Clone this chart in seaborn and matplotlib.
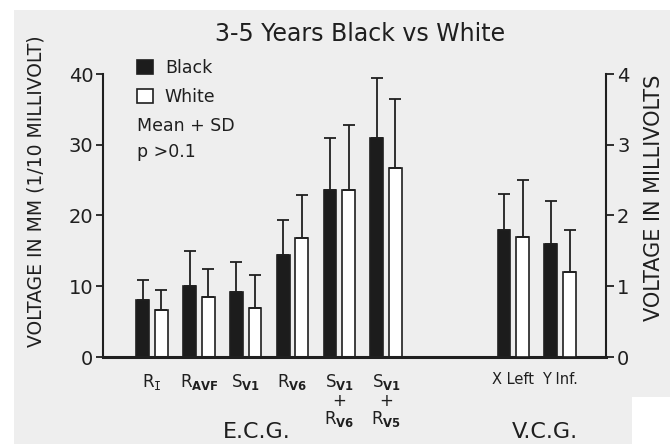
import numpy as np
import pandas as pd
import matplotlib
matplotlib.use("Agg")
import matplotlib.pyplot as plt
from matplotlib.patches import Patch, Rectangle
import seaborn as sns

# ---------------- data ----------------
groups = ["Black", "White"]
ecg_labels = [r"R$_{\mathtt{I}}$", r"R$_{\mathbf{AVF}}$", r"S$_{\mathbf{V1}}$",
              r"R$_{\mathbf{V6}}$", "S$_{\\mathbf{V1}}$\n+\nR$_{\\mathbf{V6}}$",
              "S$_{\\mathbf{V1}}$\n+\nR$_{\\mathbf{V5}}$"]
vcg_labels = ["X Left", "Y Inf."]

black_ecg = [8.0, 10.0, 9.2, 14.4, 23.6, 30.9]
black_ecg_sd = [2.9, 5.0, 4.2, 5.0, 7.3, 8.5]
white_ecg = [6.6, 8.5, 6.9, 16.8, 23.6, 26.7]
white_ecg_sd = [2.9, 3.9, 4.7, 6.1, 9.2, 9.7]

black_vcg = [1.8, 1.6]
black_vcg_sd = [0.5, 0.6]
white_vcg = [1.7, 1.2]
white_vcg_sd = [0.8, 0.6]

left_ticks = [0, 10, 20, 30, 40]
right_ticks = [0, 1, 2, 3, 4]

# layout positions (numeric x positions of groups)
ecg_pos = [0, 1, 2, 3, 4, 5]
vcg_pos = [7.72, 8.72]

# ---------------- style ----------------
sns.set_style("ticks")
plt.rcParams["font.family"] = ["DejaVu Sans"]
plt.rcParams["mathtext.fontset"] = "dejavusans"
ink = "#1f1f1f"
plt.rcParams["text.color"] = ink
plt.rcParams["axes.labelcolor"] = ink
plt.rcParams["xtick.color"] = ink
plt.rcParams["ytick.color"] = ink

fig = plt.figure(figsize=(6.7, 4.44), dpi=100, facecolor="white")
# scanned page background
fig.patches.append(Rectangle((14 / 670, 0), 1, 1 - 10 / 444, transform=fig.transFigure,
                             facecolor="#eeeeee", edgecolor="none", zorder=-10))
fig.patches.append(Rectangle((632 / 670, 0), 1, 1 - 397 / 444, transform=fig.transFigure,
                             facecolor="white", edgecolor="none", zorder=-9))

ax = fig.add_axes([103 / 670, 1 - 357 / 444, (606 - 103) / 670, (357 - 74) / 444])
ax.set_facecolor("none")
ax2 = ax.twinx()

palette = {"Black": "#1c1c1c", "White": "white"}

ecg_df = pd.DataFrame({
    "pos": ecg_pos * 2,
    "group": ["Black"] * len(ecg_pos) + ["White"] * len(ecg_pos),
    "value": black_ecg + white_ecg,
})
vcg_df = pd.DataFrame({
    "pos": vcg_pos * 2,
    "group": ["Black"] * len(vcg_pos) + ["White"] * len(vcg_pos),
    "value": black_vcg + white_vcg,
})

common = dict(x="pos", y="value", hue="group", hue_order=groups, palette=palette,
              native_scale=True, width=0.8, gap=0.32, edgecolor=ink, linewidth=1.2,
              errorbar=None, legend=False)
sns.barplot(data=ecg_df, ax=ax, **common)
sns.barplot(data=vcg_df, ax=ax2, **common)


def add_err(axis, sds):
    for bar, sd in zip(axis.patches, sds):
        cx = bar.get_x() + bar.get_width() / 2
        top = bar.get_height()
        axis.errorbar(cx, top, yerr=[[0], [sd]], fmt="none", ecolor=ink,
                      elinewidth=1.3, capsize=4.5, capthick=1.3, zorder=1)


add_err(ax, black_ecg_sd + white_ecg_sd)
add_err(ax2, black_vcg_sd + white_vcg_sd)

# axes
ax.set_ylim(0, 40)
ax.set_yticks(left_ticks)
ax2.set_ylim(0, 4)
ax2.set_yticks(right_ticks)
ax.set_xticks(ecg_pos + vcg_pos)
ax.set_xticklabels(ecg_labels + vcg_labels, fontsize=12, linespacing=0.95)
for lab in ax.get_xticklabels()[len(ecg_labels):]:
    lab.set_fontsize(10.5)
ax.set_xlim(-1.05, 9.70)
ax2.set_xlim(-1.05, 9.70)

ax.tick_params(axis="x", length=0, pad=11)
ax.tick_params(axis="y", length=5, width=1.3, pad=2, labelsize=14)
ax2.tick_params(axis="y", length=6, width=1.3, pad=2, labelsize=14)

for s in ["top", "right"]:
    ax.spines[s].set_visible(False)
for s in ["top", "left", "bottom"]:
    ax2.spines[s].set_visible(False)
ax.spines["left"].set_linewidth(1.5)
ax.spines["bottom"].set_linewidth(2.2)
ax2.spines["right"].set_linewidth(1.5)
for s in ax.spines.values():
    s.set_color(ink)
ax2.spines["right"].set_color(ink)

ax.set_xlabel("")
ax2.set_xlabel("")
ax.set_ylabel("VOLTAGE IN MM (1/10 MILLIVOLT)", fontsize=13.5)
ax.yaxis.set_label_coords((46 - 103) / 503, (357 - 191) / 283)
ax2.set_ylabel("VOLTAGE IN MILLIVOLTS", fontsize=15, rotation=90)
ax2.yaxis.set_label_coords((644 - 103) / 503, (357 - 198) / 283)

# legend
handles = [Patch(facecolor=palette[g], edgecolor=ink, linewidth=1.2, label=g) for g in groups]
ax.legend(handles=handles, loc="upper left", bbox_to_anchor=(137 / 670, 1 - 59 / 444),
          bbox_transform=fig.transFigure, frameon=False, borderpad=0, borderaxespad=0,
          handlelength=0.9, handleheight=0.85, handletextpad=0.7, labelspacing=0.62,
          fontsize=12.5)
fig.text(137 / 670, 1 - 126 / 444, "Mean + SD", fontsize=12.5, va="center", ha="left")
fig.text(137 / 670, 1 - 152 / 444, "p >0.1", fontsize=12.5, va="center", ha="left")

# titles
fig.text(360 / 670, 1 - 34 / 444, "3-5 Years Black vs White", fontsize=17,
         ha="center", va="center")
fig.text(257 / 670, 1 - 432 / 444, "E.C.G.", fontsize=16, ha="center", va="center")
fig.text(545 / 670, 1 - 432 / 444, "V.C.G.", fontsize=16, ha="center", va="center")

fig.savefig("out.png", dpi=100, facecolor=fig.get_facecolor())
